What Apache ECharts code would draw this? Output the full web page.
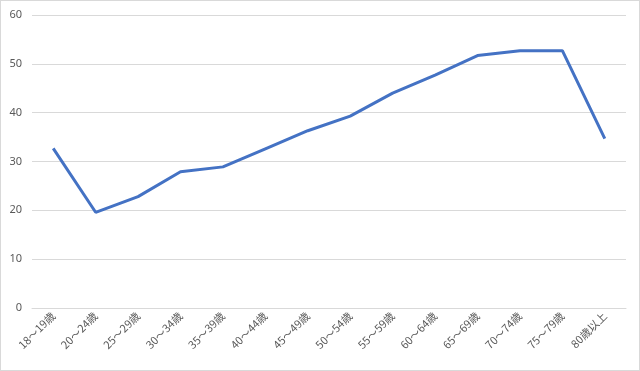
<!DOCTYPE html>
<html><head><meta charset="utf-8">
<script src="https://cdn.jsdelivr.net/npm/echarts@6/dist/echarts.min.js"></script>
<style>html,body{margin:0;padding:0;background:#fff}#c{width:640px;height:371px;box-sizing:border-box;border:1px solid #d9d9d9}</style>
</head><body><div id="c"></div>
<script>
const categories = ['18～19歳','20～24歳','25～29歳','30～34歳','35～39歳','40～44歳','45～49歳','50～54歳','55～59歳','60～64歳','65～69歳','70～74歳','75～79歳','80歳以上'];
const values = [32.7, 19.6, 22.8, 27.9, 28.9, 32.6, 36.3, 39.3, 44.0, 47.7, 51.7, 52.7, 52.7, 34.7];
const chart = echarts.init(document.getElementById('c'));
chart.setOption({
  animation: false,
  grid: {left: 31, right: 13, top: 14, bottom: 62},
  xAxis: {
    type: 'category', data: categories, boundaryGap: true,
    axisLine: {show: true, lineStyle: {color: '#d9d9d9'}},
    axisTick: {show: false},
    axisLabel: {rotate: 45, interval: 0, color: '#595959', fontSize: 11, fontFamily: 'Noto Sans CJK JP', margin: 6}
  },
  yAxis: {
    type: 'value', min: 0, max: 60, interval: 10,
    axisLine: {show: false}, axisTick: {show: false},
    axisLabel: {color: '#595959', fontSize: 11, fontFamily: 'Noto Sans', margin: 10},
    splitLine: {lineStyle: {color: '#d9d9d9'}}
  },
  series: [{
    type: 'line', data: values, showSymbol: false, symbol: 'none',
    lineStyle: {color: '#4472C4', width: 3}
  }]
});
</script></body></html>
